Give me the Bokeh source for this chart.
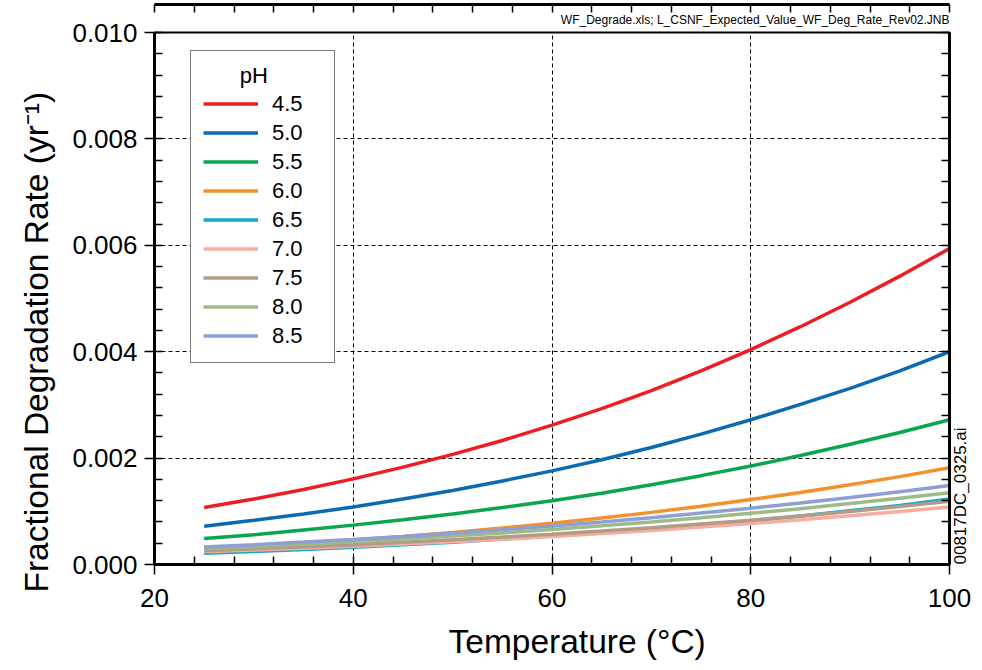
import numpy as np
from bokeh.plotting import figure
from bokeh.models import (Range1d, LinearAxis, FixedTicker, SingleIntervalTicker,
                          Legend, LegendItem, Title, PrintfTickFormatter)
from bokeh.embed import file_html
from bokeh.resources import INLINE

temperature = [25, 30, 35, 40, 45, 50, 55, 60, 65, 70, 75, 80, 85, 90, 95, 100]
ph_labels = ["4.5", "5.0", "5.5", "6.0", "6.5", "7.0", "7.5", "8.0", "8.5"]

rate_ph45 = [0.00107, 0.00123, 0.00141, 0.00161, 0.00183, 0.00207, 0.00233, 0.00262,
             0.00293, 0.00327, 0.00364, 0.00404, 0.00447, 0.00493, 0.00542, 0.00594]
rate_ph50 = [0.00072, 0.00083, 0.00095, 0.00108, 0.00123, 0.00139, 0.00157, 0.00176,
             0.00197, 0.00220, 0.00245, 0.00272, 0.00301, 0.00331, 0.00364, 0.00400]
rate_ph55 = [0.00049, 0.00056, 0.00065, 0.00074, 0.00084, 0.00095, 0.00107, 0.00120,
             0.00134, 0.00150, 0.00167, 0.00185, 0.00205, 0.00226, 0.00248, 0.00272]
rate_ph60 = [0.00030, 0.000348, 0.000401, 0.000461, 0.000527, 0.000601, 0.000684, 0.000775,
             0.000873, 0.00098, 0.001095, 0.00122, 0.001355, 0.001498, 0.001652, 0.00182]
rate_ph65 = [0.00021, 0.000243, 0.000281, 0.000323, 0.000369, 0.00042, 0.000477, 0.000536,
             0.000601, 0.00067, 0.000743, 0.00082, 0.00091, 0.00101, 0.00111, 0.00123]
rate_ph70 = [0.00024, 0.000271, 0.000306, 0.000343, 0.000384, 0.000428, 0.000475, 0.000527,
             0.000581, 0.00064, 0.000703, 0.000769, 0.00084, 0.000916, 0.000995, 0.00108]
rate_ph75 = [0.00026, 0.000294, 0.000332, 0.000372, 0.000416, 0.000464, 0.000515, 0.00057,
             0.00063, 0.000693, 0.000761, 0.000834, 0.00091, 0.000995, 0.00109, 0.00119]
rate_ph80 = [0.00030, 0.000339, 0.000383, 0.000429, 0.00048, 0.000535, 0.000594, 0.000658,
             0.000727, 0.0008, 0.000878, 0.000962, 0.00105, 0.001145, 0.001244, 0.001349]
rate_ph85 = [0.00033, 0.000373, 0.000421, 0.000472, 0.000528, 0.000589, 0.000654, 0.000724,
             0.000799, 0.00088, 0.000966, 0.001058, 0.001155, 0.001259, 0.001369, 0.001484]

series = [rate_ph45, rate_ph50, rate_ph55, rate_ph60, rate_ph65,
          rate_ph70, rate_ph75, rate_ph80, rate_ph85]
colors = ["#EE1D23", "#0A6AB2", "#0AA54F", "#F3912C", "#12A9CB",
          "#F7ADA1", "#B29C86", "#9DBB87", "#8E9FD5"]

x_major = [20, 40, 60, 80, 100]
y_major = [0.000, 0.002, 0.004, 0.006, 0.008, 0.010]

FONT = "Liberation Sans"

p = figure(width=982, height=670, output_backend="svg", toolbar_location=None,
           x_range=Range1d(20, 100), y_range=Range1d(0, 0.010),
           min_border_left=154, min_border_right=32, min_border_top=32,
           min_border_bottom=106)
p.outline_line_color = "black"
p.outline_line_width = 2
p.background_fill_color = "white"
p.border_fill_color = "white"

# Top file-name note as a right-aligned title
p.add_layout(Title(text="WF_Degrade.xls; L_CSNF_Expected_Value_WF_Deg_Rate_Rev02.JNB",
                   align="right", text_font=FONT,
                   text_font_size="12px", text_font_style="normal",
                   text_color="black", standoff=12), "above")

# Axes
xt = SingleIntervalTicker(interval=20, num_minor_ticks=5)
yt = SingleIntervalTicker(interval=0.002, num_minor_ticks=5)
p.xaxis.ticker = xt
p.yaxis.ticker = yt
p.yaxis.formatter = PrintfTickFormatter(format="%.3f")
for ax in (p.xaxis[0], p.yaxis[0]):
    ax.axis_line_width = 3
    ax.axis_line_color = "black"
    ax.major_tick_line_width = 1.5
    ax.minor_tick_line_width = 1.5
    ax.major_tick_in = 0
    ax.major_tick_out = 10
    ax.minor_tick_in = 8
    ax.minor_tick_out = 0
    ax.major_label_text_font = FONT
    ax.major_label_text_font_size = "26px"
    ax.major_label_text_color = "black"
p.xaxis.major_label_standoff = 14
p.yaxis.major_label_standoff = 7

# Axis titles (as Titles so they can be offset along the frame like the original)
p.add_layout(Title(text="Fractional Degradation Rate (yr⁻¹)", align="left",
                   offset=-28, text_font=FONT, text_font_size="33.5px",
                   text_font_style="normal", text_color="black", standoff=30), "left")
p.add_layout(Title(text="Temperature (°C)", align="left", offset=294,
                   text_font=FONT, text_font_size="33.5px",
                   text_font_style="normal", text_color="black", standoff=22), "below")

# Mirror axes (top / right) with inward minor ticks, no tick labels
top_ticks = FixedTicker(ticks=[], minor_ticks=list(np.arange(20, 101, 4)))
right_ticks = FixedTicker(ticks=[], minor_ticks=list(np.round(np.arange(0, 0.0101, 0.0004), 5)))
mirror = {}
for loc, tk in (("above", top_ticks), ("right", right_ticks)):
    ax = LinearAxis(ticker=tk)
    ax.axis_line_width = 3
    ax.axis_line_color = "black"
    ax.minor_tick_line_width = 1.5
    ax.minor_tick_in = 8
    ax.minor_tick_out = 0
    ax.major_tick_in = 0
    ax.major_tick_out = 0
    p.add_layout(ax, loc)
    mirror[loc] = ax

# Drawing id, rotated, at the lower right edge
rax = mirror["right"]
rax.axis_label = "00817DC_0325.ai"
rax.axis_label_text_font = FONT
rax.axis_label_text_font_size = "17px"
rax.axis_label_text_font_style = "normal"
rax.axis_label_text_color = "black"
rax.axis_label_standoff = 11
try:
    rax.axis_label_orientation = np.pi / 2
except Exception:
    pass
try:
    rax.axis_label_align = "start"
except Exception:
    pass

# Grid
p.xgrid.ticker = FixedTicker(ticks=x_major)
p.ygrid.ticker = FixedTicker(ticks=y_major)
p.grid.grid_line_color = "black"
p.grid.grid_line_dash = "4 3"
p.grid.grid_line_width = 1

items = []
for lab, ys, c in zip(ph_labels, series, colors):
    r = p.line(temperature, ys, line_color=c, line_width=3.5)
    items.append(LegendItem(label=lab, renderers=[r]))

legend = Legend(items=items, location=(36, 201),
                title="\u2007\u2007\u2007pH", title_text_font=FONT,
                title_text_font_size="22px", title_text_font_style="normal",
                title_text_color="black", title_standoff=0,
                label_text_font=FONT, label_text_font_size="22px",
                label_text_color="black", label_width=50,
                label_height=29, glyph_height=29, glyph_width=55,
                label_standoff=14, spacing=0, padding=12, margin=0,
                border_line_color="black", border_line_width=1.5,
                background_fill_alpha=1.0)
p.add_layout(legend, "center")

open("out.html", "w").write(file_html(p, INLINE))
